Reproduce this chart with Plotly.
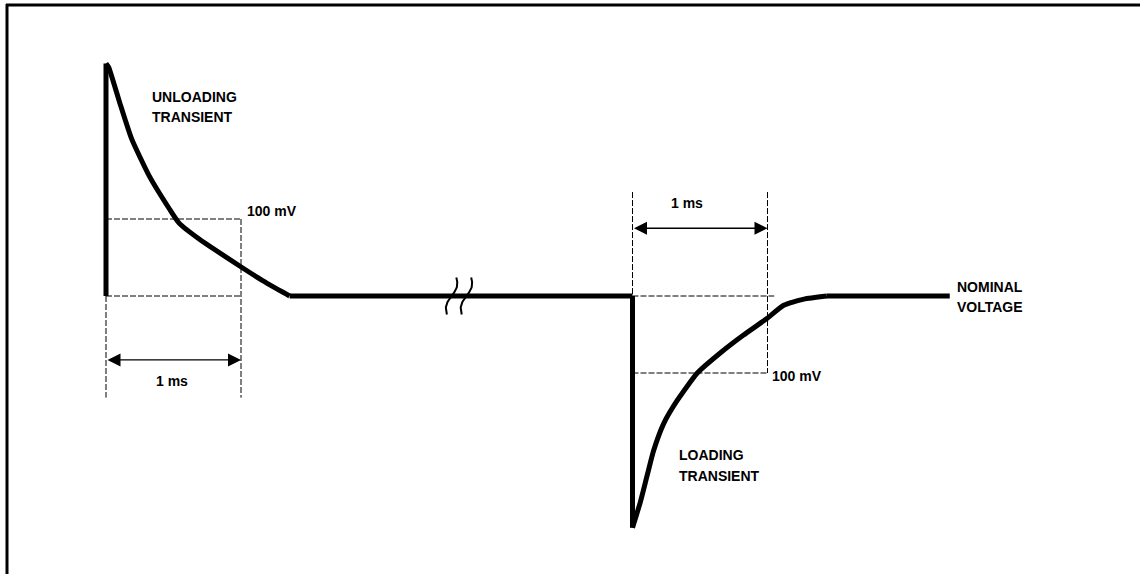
import numpy as np
import plotly.graph_objects as go

# ---- data (time in ms on drawing axis, voltage deviation in mV) ----
unload_peak = 302
unload_t = [0.0, 0.02, 0.10, 0.19, 0.32, 0.47, 0.54, 0.69, 0.99, 1.16, 1.33, 1.36]
unload_v = [302, 297, 252, 204, 156, 113, 95, 74, 39, 20, 3, 0]

load_step = 3.90
load_bottom = -301
load_t = [0.0, 0.059, 0.11, 0.156, 0.23, 0.33, 0.48, 0.65, 0.82, 0.99, 1.12, 1.27, 1.44]
load_v = [-301, -267, -232, -201, -166, -136, -100, -74, -51, -30, -12, -4, 0]

nominal_end = 6.25
break_t = [2.56, 2.67]
step_mv = 100
span_ms = 1.0

FONT = "Liberation Sans, Arial, sans-serif"
BLACK = "#000000"
THICK = 5

fig = go.Figure()

# nominal voltage thick line
fig.add_trace(go.Scatter(x=[unload_t[-1], load_step], y=[0, 0], mode="lines",
                         line=dict(color=BLACK, width=THICK), hoverinfo="skip"))
fig.add_trace(go.Scatter(x=[load_step + load_t[-1], nominal_end], y=[0, 0], mode="lines",
                         line=dict(color=BLACK, width=THICK), hoverinfo="skip"))

# dashed reference boxes
dash = dict(color=BLACK, width=1, dash="6px,2px")
def seg(x, y):
    fig.add_trace(go.Scatter(x=x, y=y, mode="lines", line=dash, hoverinfo="skip"))

seg([0, span_ms], [step_mv, step_mv])
seg([0, span_ms], [0, 0])
seg([0, 0], [0, -132])
seg([span_ms, span_ms], [step_mv, -132])
seg([load_step, load_step + 1.05], [0, 0])
seg([load_step, load_step + span_ms], [-step_mv, -step_mv])
seg([load_step, load_step], [135, 0])
seg([load_step + span_ms, load_step + span_ms], [135, -step_mv])

# steps (vertical edges)
fig.add_trace(go.Scatter(x=[0, 0], y=[0, unload_peak], mode="lines",
                         line=dict(color=BLACK, width=THICK), hoverinfo="skip"))
fig.add_trace(go.Scatter(x=[load_step, load_step], y=[0, load_bottom], mode="lines",
                         line=dict(color=BLACK, width=THICK), hoverinfo="skip"))

# transient decays
fig.add_trace(go.Scatter(x=unload_t, y=unload_v, mode="lines",
                         line=dict(color=BLACK, width=THICK, shape="spline", smoothing=0.5),
                         hoverinfo="skip"))
fig.add_trace(go.Scatter(x=[load_step + t for t in load_t], y=load_v, mode="lines",
                         line=dict(color=BLACK, width=THICK, shape="spline", smoothing=0.5),
                         hoverinfo="skip"))

# break symbol (two small S strokes)
u = np.linspace(-1, 1, 40)
for bt in break_t:
    fig.add_trace(go.Scatter(x=bt + 0.035 * u + 0.022 * np.sin(np.pi * u),
                             y=24 * u, mode="lines",
                             line=dict(color=BLACK, width=2), hoverinfo="skip"))

ann = []
def label(t, v, text, xanchor="left"):
    ann.append(dict(x=t, y=v, text=text, showarrow=False, xanchor=xanchor,
                    yanchor="middle", font=dict(family=FONT, size=14, color=BLACK)))

label(0.326, 258, "<b>UNLOADING</b>")
label(0.326, 232, "<b>TRANSIENT</b>")
label(1.03, 110, "<b>100 mV</b>")
label(0.49, -110, "<b>1 ms</b>", "center")
label(4.30, 121, "<b>1 ms</b>", "center")
label(4.92, -104, "<b>100 mV</b>")
label(4.23, -206, "<b>LOADING</b>")
label(4.23, -234, "<b>TRANSIENT</b>")
label(6.29, 12, "<b>NOMINAL</b>")
label(6.29, -14, "<b>VOLTAGE</b>")

# double-headed arrows
for (a, b, v) in [(0, span_ms, -83), (load_step, load_step + span_ms, 88)]:
    ann.append(dict(x=b, y=v, ax=a, ay=v, xref="x", yref="y", axref="x", ayref="y",
                    text="", showarrow=True, arrowhead=2, arrowsize=2.0,
                    arrowwidth=1.3, arrowcolor=BLACK, arrowside="end+start"))

W, H = 1140, 574
px0, ppm = 106, 135.0
py0, ppv = 296, 0.77
fig.update_layout(
    width=W, height=H, margin=dict(l=0, r=0, t=0, b=0),
    paper_bgcolor="white", plot_bgcolor="white", showlegend=False,
    xaxis=dict(range=[(0 - px0) / ppm, (W - px0) / ppm], visible=False, fixedrange=True),
    yaxis=dict(range=[(py0 - H) / ppv, py0 / ppv], visible=False, fixedrange=True),
    annotations=ann,
    shapes=[
        dict(type="line", xref="paper", yref="paper", x0=6 / W, x1=1, y0=1 - 5 / H, y1=1 - 5 / H,
             line=dict(color=BLACK, width=3)),
        dict(type="line", xref="paper", yref="paper", x0=7 / W, x1=7 / W, y0=0, y1=1 - 4 / H,
             line=dict(color=BLACK, width=3)),
    ],
)

fig.write_html("out.html", config={"displayModeBar": False},
               post_script="document.body.style.margin='0';document.body.style.overflow='hidden';")
